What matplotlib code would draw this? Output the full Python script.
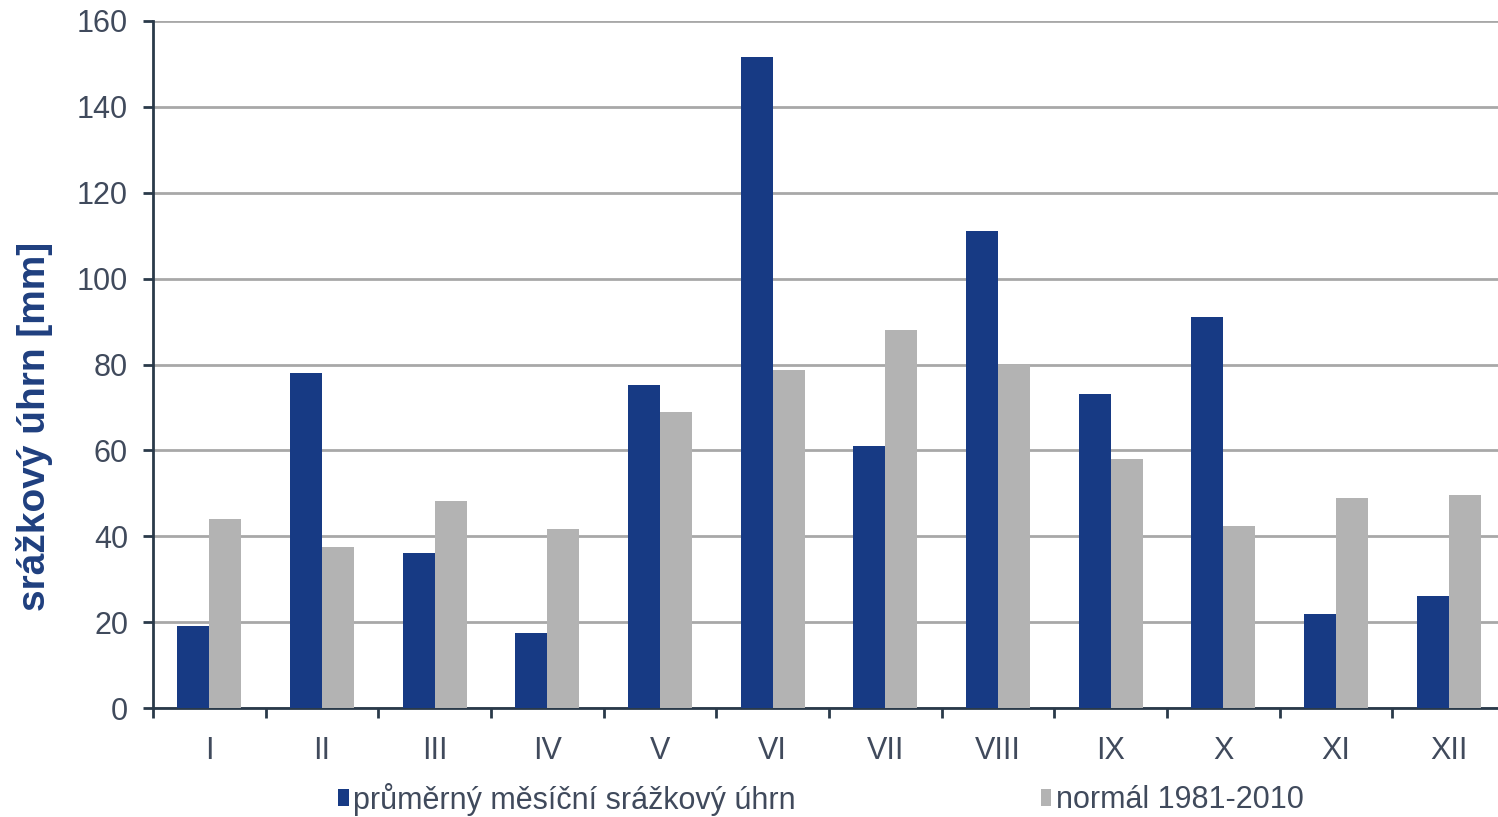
import numpy as np
import matplotlib
matplotlib.use("Agg")
from matplotlib import pyplot as plt

# monthly precipitation data
months = ["I", "II", "III", "IV", "V", "VI", "VII", "VIII", "IX", "X", "XI", "XII"]
avg_precip = [19.0, 78.0, 36.0, 17.5, 75.2, 151.5, 61.0, 111.0, 73.2, 91.0, 21.8, 26.0]
normal_1981_2010 = [44.0, 37.5, 48.1, 41.6, 68.9, 78.8, 88.0, 80.0, 58.0, 42.3, 48.8, 49.5]
yticks = [0, 20, 40, 60, 80, 100, 120, 140, 160]

blue = "#173a84"
grey = "#b3b3b3"
label_col = "#404a5c"

plt.rcParams['font.family'] = ['Liberation Sans', 'DejaVu Sans']

fig = plt.figure(figsize=(14.98, 8.17), dpi=100)
ax = fig.add_axes([153 / 1498, (817 - 708) / 817, 1352 / 1498, 687 / 817])

x = np.arange(len(months))
w = 0.285
ax.bar(x - w / 2, avg_precip, width=w, color=blue, label="průměrný měsíční srážkový úhrn", zorder=3)
ax.bar(x + w / 2, normal_1981_2010, width=w, color=grey, label="normál 1981-2010", zorder=3)

ax.set_xlim(-0.5, len(months) - 0.5)
ax.set_ylim(0, 160)
ax.set_yticks(yticks)
ax.yaxis.grid(True, color="#a8a8a8", linewidth=2, zorder=0)

# labels at centres, tick marks at category boundaries
ax.set_xticks(x)
ax.set_xticklabels(months)
ax.set_xticks(np.arange(len(months) + 1) - 0.5, minor=True)
ax.tick_params(axis='x', which='major', length=0, pad=20, labelsize=22, labelcolor=label_col)
ax.tick_params(axis='x', which='minor', length=7, width=2, color="#2a3a4a", direction='out')
ax.tick_params(axis='y', length=7, width=2, color="#2a3a4a", labelsize=22, labelcolor=label_col, pad=11)

for s in ["top", "right"]:
    ax.spines[s].set_visible(False)
for s in ["left", "bottom"]:
    ax.spines[s].set_color("#2a3a4a")
    ax.spines[s].set_linewidth(2)

fig.text(35 / 1498, 1 - 426 / 817, "srážkový úhrn [mm]", rotation=90, ha='center', va='center',
         fontsize=28, fontweight='bold', color="#1f3f7f")

leg = fig.legend(loc='center', bbox_to_anchor=(0.548, 1 - 799 / 817), ncol=2, frameon=False,
                 fontsize=22, handlelength=0.35, handleheight=0.45, handletextpad=0.15,
                 columnspacing=8.0, labelcolor=label_col)

fig.savefig("out.png", dpi=100)
